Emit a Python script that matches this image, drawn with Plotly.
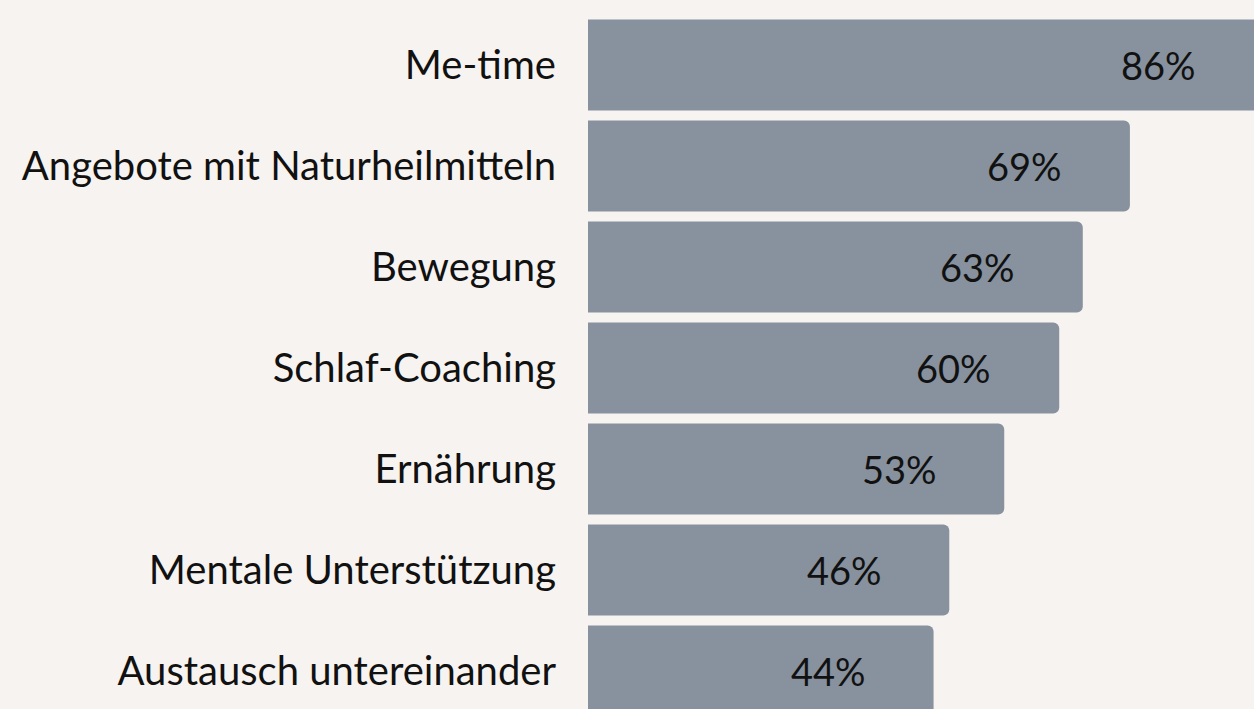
import plotly.graph_objects as go

categories = ["Me-time", "Angebote mit Naturheilmitteln", "Bewegung", "Schlaf-Coaching",
              "Ernährung", "Mentale Unterstützung", "Austausch untereinander"]
values = [86, 69, 63, 60, 53, 46, 44]
labels = [f"{v}%" for v in values]

BG = "#f7f3f0"
BAR = "#87929e"
TXT = "#111111"
FONT = "Lato"

fig = go.Figure()
fig.add_trace(go.Bar(
    x=values, y=categories, orientation="h",
    marker=dict(color=BAR, line=dict(width=0), cornerradius=6),
    hoverinfo="skip",
))

for c, v, t in zip(categories, values, labels):
    fig.add_annotation(x=v - 13.4, y=c, text=t, showarrow=False,
                       xanchor="center", yanchor="middle",
                       font=dict(family=FONT, size=38, color=TXT))

fig.update_layout(
    width=1254, height=709,
    margin=dict(l=588, r=0, t=0, b=0),
    paper_bgcolor=BG, plot_bgcolor=BG,
    bargap=0.1,
    showlegend=False,
    xaxis=dict(range=[0, 84.8], visible=False, fixedrange=True),
    yaxis=dict(type="category", categoryorder="array", categoryarray=categories,
               range=[6.376, -0.644], showgrid=False, zeroline=False, showline=False,
               ticks="", ticklabelstandoff=31,
               tickfont=dict(family=FONT, size=40, color=TXT)),
)

fig.write_html(
    "out.html",
    config={"displayModeBar": False},
    post_script="document.body.style.margin='0';document.body.style.background='%s';"
                "document.body.style.overflow='hidden';" % BG,
)
